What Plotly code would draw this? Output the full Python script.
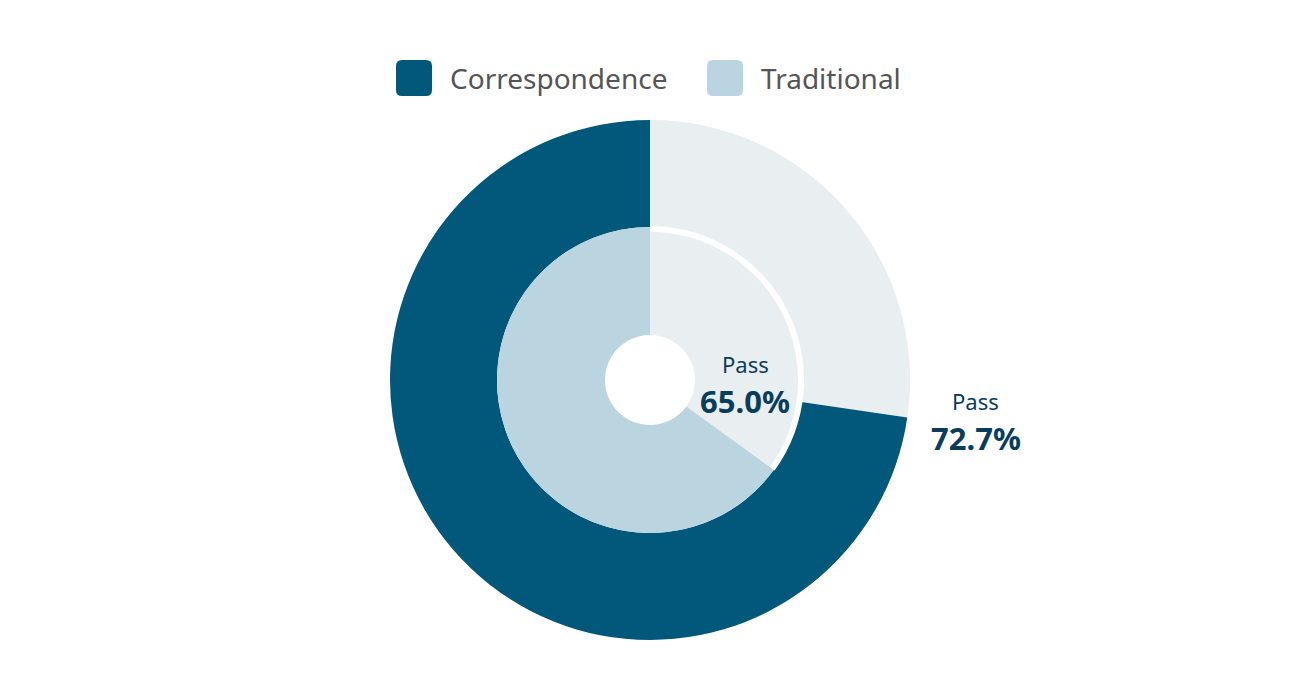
import plotly.graph_objects as go

# dados
grupos = ['Correspondence', 'Traditional']
rotulos = ['Pass', 'Not pass']
correspondence = [72.7, 27.3]
traditional = [65.0, 35.0]

cores_grupo = ['#02587B', '#BBD5E0']
cor_resto = '#E9EEF0'
cor_texto = '#083E5B'

W, H = 1300, 700
DESLOC = 8  # margem do body da pagina
CX, CY = 650 - DESLOC, 380 - DESLOC  # centro do grafico em px


def dominio(raio):
    # converte centro/raio em px para dominio em papel
    return dict(
        x=[(CX - raio) / W, (CX + raio) / W],
        y=[1 - (CY + raio) / H, 1 - (CY - raio) / H],
    )


def anel(valores, cores, raio, furo):
    # ordem invertida: a fatia "Pass" fica a esquerda, descendo no sentido anti-horario
    return go.Pie(
        labels=rotulos[::-1], values=valores[::-1],
        domain=dominio(raio), hole=furo / raio,
        sort=False, direction='clockwise', rotation=0,
        marker=dict(colors=cores[::-1], line=dict(width=0)),
        textinfo='none', hoverinfo='skip', showlegend=False,
    )


fig = go.Figure()
fig.add_trace(anel(correspondence, [cores_grupo[0], cor_resto], 260, 153))  # anel externo
fig.add_trace(anel(traditional, [cores_grupo[1], cor_resto], 153, 45))  # anel interno
# filete branco separando a parte cinza do anel interno
fig.add_trace(anel(traditional, ['rgba(0,0,0,0)', 'white'], 154, 148))


def px_x(v):
    return (v - DESLOC) / W


def px_y(v):
    return 1 - (v - DESLOC) / H


def quadrado_arredondado(x0, y0, x1, y1, r):
    # caminho com cantos arredondados (coordenadas em papel)
    rx, ry = r / W, r / H
    a, b, c, d = px_x(x0), px_x(x1), px_y(y0), px_y(y1)
    return (f'M{a + rx},{c} L{b - rx},{c} Q{b},{c} {b},{c - ry} '
            f'L{b},{d + ry} Q{b},{d} {b - rx},{d} L{a + rx},{d} '
            f'Q{a},{d} {a},{d + ry} L{a},{c - ry} Q{a},{c} {a + rx},{c} Z')


# legenda manual
legenda_x = [396, 707]
formas = []
anotacoes = []
for nome, cor, x0 in zip(grupos, cores_grupo, legenda_x):
    formas.append(dict(
        type='path', xref='paper', yref='paper',
        path=quadrado_arredondado(x0, 60, x0 + 36, 96, 6),
        fillcolor=cor, line=dict(width=0),
    ))
    anotacoes.append(dict(
        text=nome, xref='paper', yref='paper',
        x=px_x(x0 + 52), y=px_y(78), xanchor='left', yanchor='middle',
        showarrow=False, font=dict(size=28, color='#555555', family='Noto Sans'),
    ))

# rotulos dos anéis
rotulos_pos = [(976, 401, 438, correspondence[0]), (745, 364, 401, traditional[0])]
for x, y_pass, y_val, valor in rotulos_pos:
    anotacoes.append(dict(
        text=rotulos[0], xref='paper', yref='paper',
        x=px_x(x), y=px_y(y_pass), xanchor='center', yanchor='middle',
        showarrow=False, borderpad=0,
        font=dict(size=22, color=cor_texto, family='Noto Sans'),
    ))
    anotacoes.append(dict(
        text=f'<b>{valor:.1f}%</b>', xref='paper', yref='paper',
        x=px_x(x), y=px_y(y_val), xanchor='center', yanchor='middle',
        showarrow=False, borderpad=0,
        font=dict(size=31, color=cor_texto, family='Noto Sans'),
    ))

fig.update_layout(
    width=W, height=H,
    margin=dict(l=0, r=0, t=0, b=0),
    paper_bgcolor='white',
    plot_bgcolor='white',
    shapes=formas,
    annotations=anotacoes,
    showlegend=False,
)

fig.write_html('out.html')
